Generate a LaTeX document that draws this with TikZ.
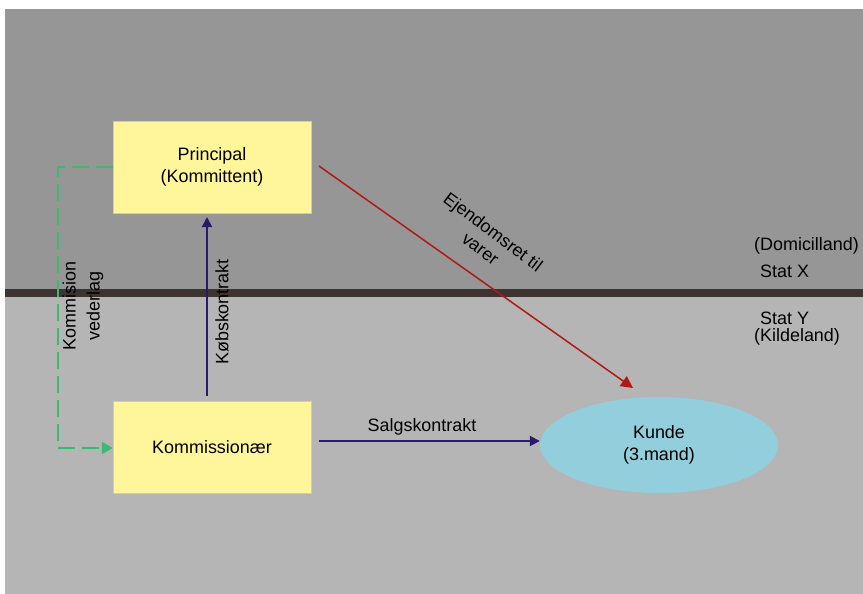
\documentclass[tikz,border=0pt]{standalone}
\usepackage{fontspec}
\setmainfont{Liberation Sans}
\usetikzlibrary{arrows.meta,shapes.geometric}
\definecolor{bgtop}{HTML}{969696}
\definecolor{bgbot}{HTML}{B5B5B5}
\definecolor{band}{HTML}{3D3331}
\definecolor{boxfill}{HTML}{FFF59A}
\definecolor{boxline}{HTML}{D8D08A}
\definecolor{kundefill}{HTML}{92CEDC}
\definecolor{navy}{HTML}{2A1A6A}
\definecolor{darkred}{HTML}{B01A14}
\definecolor{grn}{HTML}{3CB870}
\tikzset{
  party/.style={draw=boxline, fill=boxfill, minimum width=198bp, minimum height=92bp, inner sep=0pt, align=center, font=\fontsize{18}{22}\selectfont},
  lbl/.style={font=\fontsize{18}{21}\selectfont, align=center, inner sep=1pt},
  navyarrow/.style={draw=navy, line width=1.8bp, -{Triangle[length=10bp,width=10bp]}},
}
\begin{document}
\begin{tikzpicture}[x=1bp,y=-1bp]
\useasboundingbox (0,0) rectangle (863,594);
\fill[white] (0,0) rectangle (863,594);
\fill[bgtop] (5,9) rectangle (863,290);
\fill[bgbot] (5,290) rectangle (863,594);
\fill[band] (5,289) rectangle (863,296.5);

\node[party] (principal) at (212,167) {Principal\\(Kommittent)};
\node[party] (kommis) at (212,447) {Kommissionær};
\node[ellipse, fill=kundefill, minimum width=238bp, minimum height=96bp, inner sep=0pt, align=center, font=\fontsize{18}{22}\selectfont] (kunde) at (659,445) {Kunde\\(3.mand)};

\coordinate (kbstart) at (207,396);
\coordinate (kbend) at (207,217);
\draw[navyarrow] (kbstart) -- (kbend);
\node[lbl, rotate=90] (kblbl) at (222,312) {Købskontrakt};

\coordinate (sgstart) at (319,441);
\draw[navyarrow] (sgstart) -- (kunde.west |- sgstart);
\node[lbl] (sglbl) at (422,427) {Salgskontrakt};

\coordinate (rdstart) at (319,166);
\coordinate (rdend) at (633,388);
\draw[darkred, line width=1.5bp, -{Triangle[length=12bp,width=12bp]}] (rdstart) -- (rdend);
\node[lbl, rotate=-37] (ejlbl) at (487,240) {Ejendomsret til\\varer};

\coordinate (g1) at (58,167);
\coordinate (g2) at (58,448);
\draw[grn, line width=2bp, dash pattern=on 17bp off 7bp, -{Triangle[length=11bp,width=12bp]}] (principal.west) -- (g1) -- (g2) -- (kommis.west |- g2);
\node[lbl, rotate=90, font=\fontsize{18}{24}\selectfont] (kvlbl) at (83,306) {Kommision\\vederlag};

\node[lbl, anchor=west] (dom) at (753,246) {(Domicilland)};
\node[lbl, anchor=west] (sx) at (759,271) {Stat X};
\node[lbl, anchor=west] (sy) at (759,318) {Stat Y};
\node[lbl, anchor=west] (kl) at (753,337) {(Kildeland)};
\end{tikzpicture}
\end{document}
